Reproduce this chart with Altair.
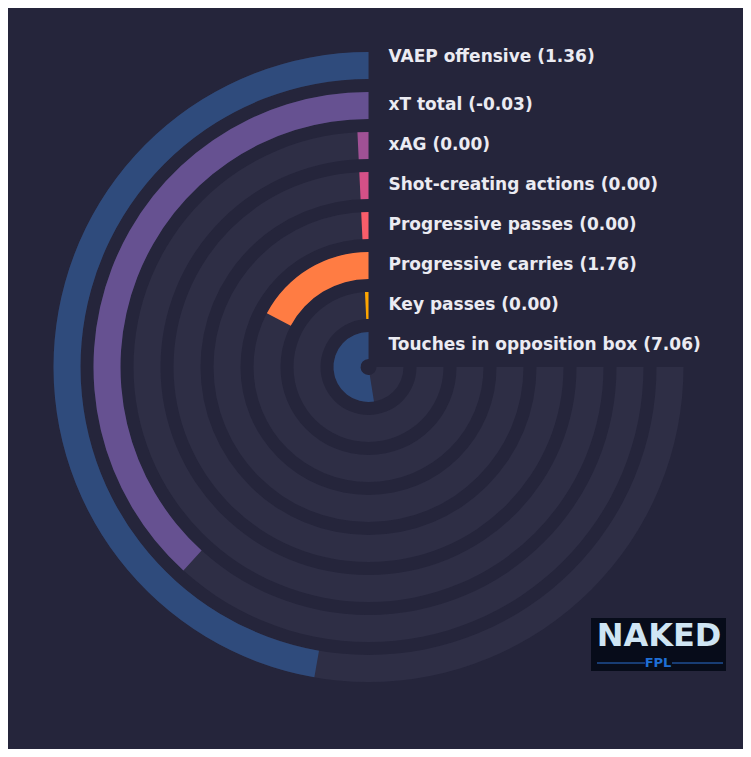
import math
import altair as alt
import pandas as pd

# ---- data ----
metrics = [
    "VAEP offensive",
    "xT total",
    "xAG",
    "Shot-creating actions",
    "Progressive passes",
    "Progressive carries",
    "Key passes",
    "Touches in opposition box",
]
values = [1.36, -0.03, 0.00, 0.00, 0.00, 1.76, 0.00, 7.06]
# share of the 270-degree track that each bar fills (percent)
percentiles = [63, 51, 1, 1, 1, 23, 1, 70]
# ring index, outermost = 8
rings = [8, 7, 6, 5, 4, 3, 2, 1]
colors = ["#2f4b7c", "#665191", "#a05195", "#d45087", "#f95d6a", "#ff7c43", "#ffa600", "#2f4b7c"]

BG = "#25253b"
TRACK = "#2e2e45"
TEXT = "#ebebf2"

# polar centre of the chart (layout)
CX, CY = 360.5, 359

df = pd.DataFrame({
    "metric": metrics,
    "value": values,
    "pct": percentiles,
    "ring": rings,
})
df["label"] = [f"{m} ({v:.2f})" for m, v in zip(metrics, values)]

base = alt.Chart(df).transform_calculate(
    k_in="datum.ring - 0.675",
    k_lab="datum.ring - 0.3125",
    full="100",
    zero="0",
)

rscale = alt.Scale(type="linear", domain=[0.125, 8.125], range=[0, 320])
tscale = alt.Scale(type="linear", domain=[0, 100], range=[2 * math.pi, math.pi / 2])

tracks = base.mark_arc(color=TRACK).encode(
    x=alt.value(CX), y=alt.value(CY),
    theta=alt.Theta("full:Q", scale=tscale, stack=False),
    theta2="zero:Q",
    radius=alt.Radius("ring:Q", scale=rscale),
    radius2="k_in:Q",
)

bars = base.mark_arc().encode(
    x=alt.value(CX), y=alt.value(CY),
    theta=alt.Theta("pct:Q", scale=tscale, stack=False),
    theta2="zero:Q",
    radius=alt.Radius("ring:Q", scale=rscale),
    radius2="k_in:Q",
    color=alt.Color("metric:N", scale=alt.Scale(domain=metrics, range=colors), legend=None),
)

text_style = dict(align="left", baseline="middle", dx=20, fontSize=17,
                  fontWeight="bold", font="DejaVu Sans", color=TEXT)

labels_inner = base.transform_filter("datum.ring < 8").mark_text(**text_style).encode(
    x=alt.value(CX), y=alt.value(CY),
    theta=alt.value(0),
    radius=alt.Radius("k_lab:Q", scale=rscale),
    text="label:N",
)
labels_outer = base.transform_filter("datum.ring == 8").mark_text(dy=-8, **text_style).encode(
    x=alt.value(CX), y=alt.value(CY),
    theta=alt.value(0),
    radius=alt.Radius("k_lab:Q", scale=rscale),
    text="label:N",
)

# ---- logo (decorative) ----
one = pd.DataFrame({"a": [0]})
logo_bg = alt.Chart(one).mark_rect(color="#070c1a").encode(
    x=alt.value(583), x2=alt.value(718), y=alt.value(610), y2=alt.value(663)
)
logo_word = alt.Chart(one).mark_text(
    text="NAKED", fontSize=32, font="DejaVu Sans", fontWeight="bold",
    color="#cfe5f4", align="center", baseline="alphabetic"
).encode(x=alt.value(651), y=alt.value(638))
logo_fpl = alt.Chart(one).mark_text(
    text="FPL", fontSize=13, font="DejaVu Sans", fontWeight="bold",
    color="#1f6fd6", align="center", baseline="middle"
).encode(x=alt.value(650), y=alt.value(655))
logo_l1 = alt.Chart(one).mark_rule(color="#2a6fcf", strokeWidth=1).encode(
    x=alt.value(589), x2=alt.value(637), y=alt.value(655)
)
logo_l2 = alt.Chart(one).mark_rule(color="#2a6fcf", strokeWidth=1).encode(
    x=alt.value(664), x2=alt.value(715), y=alt.value(655)
)

chart = alt.layer(
    tracks, bars, labels_inner, labels_outer,
    logo_bg, logo_word, logo_fpl, logo_l1, logo_l2,
).properties(
    width=735,
    height=741,
    background=BG,
    padding=0,
    autosize=alt.AutoSizeParams(type="none"),
).configure_view(stroke=None)

chart.save("out.html", embed_options={"renderer": "svg", "actions": False})
